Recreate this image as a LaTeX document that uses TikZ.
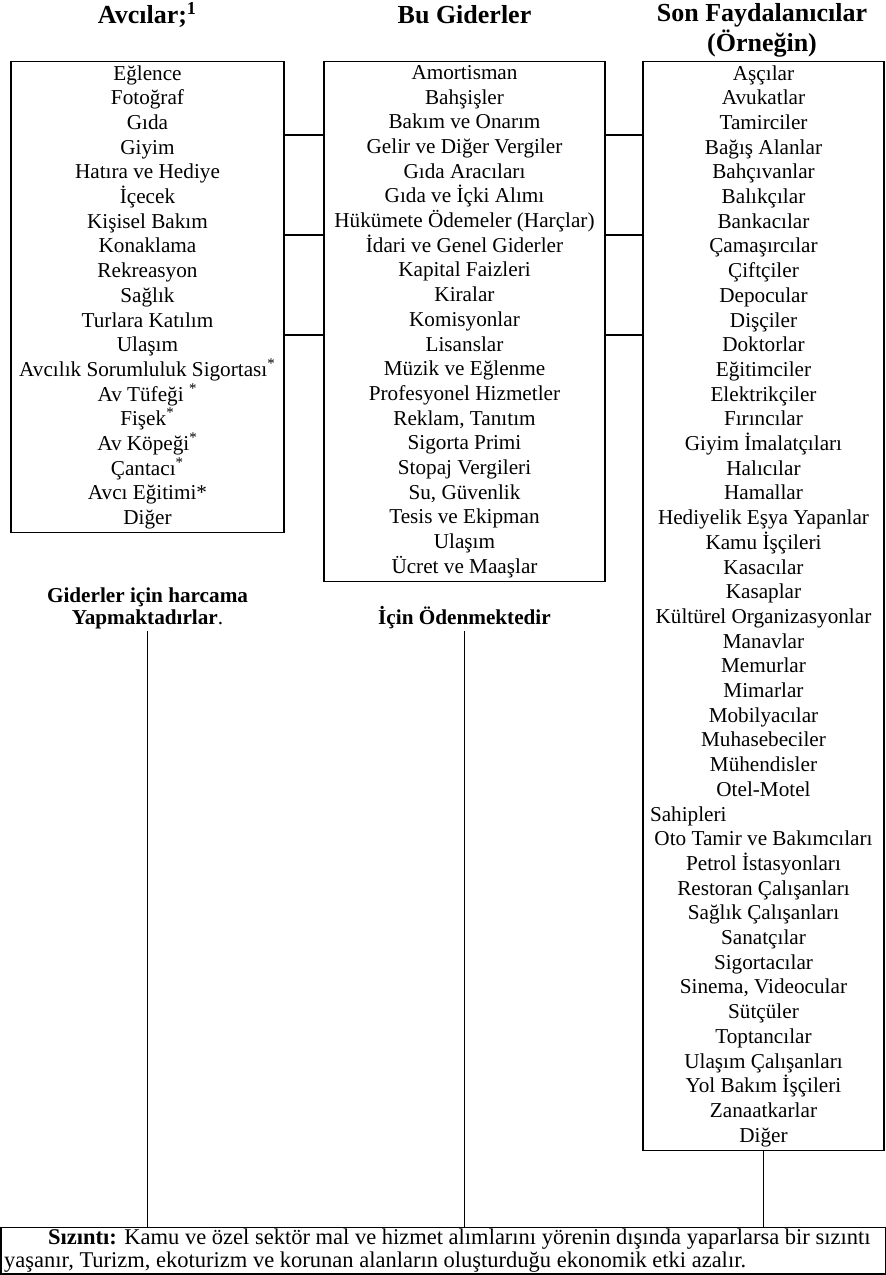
\documentclass[tikz,border=0pt]{standalone}
\usepackage{fontspec}
\setmainfont{Liberation Serif}
\usetikzlibrary{positioning}

\begin{document}
\begin{tikzpicture}[x=0.5pt, y=-0.5pt, line width=0.7pt,
  baslik/.style={font=\fontsize{13}{13.5}\selectfont\bfseries, align=center, inner sep=0pt},
  liste/.style={draw, anchor=north, align=center, inner xsep=0pt, inner ysep=1.8pt,
    font=\fontsize{10.6}{12.35}\selectfont},
  etiket/.style={font=\fontsize{10.6}{11}\selectfont\bfseries, align=center, inner sep=0pt,
    text depth=3pt, anchor=south}]
  % sayfa: 885 x 1275 px, 1 px = 0.5 pt
  \useasboundingbox (0,0) rectangle (885,1275);

  % ---------------- basliklar ----------------
  \node[baslik, anchor=base] (baslikA) at (147.5,23) {Avcılar;\textsuperscript{1}};
  \node[baslik, anchor=base] (baslikB) at (464.5,23) {Bu Giderler};
  % iki satir: base = son satir
  \node[baslik, anchor=base] (baslikC) at (762,51) {Son Faydalanıcılar\\(Örneğin)};

  % ---------------- kutular ----------------
  \node[liste, minimum width=136.5pt] (avci) at (147.5,61) {%
    Eğlence\\Fotoğraf\\Gıda\\Giyim\\Hatıra ve Hediye\\İçecek\\Kişisel Bakım\\
    Konaklama\\Rekreasyon\\Sağlık\\Turlara Katılım\\Ulaşım\\
    Avcılık Sorumluluk Sigortası\textsuperscript{*}\\Av Tüfeği \textsuperscript{*}\\
    Fişek\textsuperscript{*}\\Av Köpeği\textsuperscript{*}\\Çantacı\textsuperscript{*}\\
    Avcı Eğitimi*\\Diğer};

  \node[liste, minimum width=140.5pt] (gider) at (464.5,61) {%
    Amortisman\\Bahşişler\\Bakım ve Onarım\\Gelir ve Diğer Vergiler\\Gıda Aracıları\\
    Gıda ve İçki Alımı\\Hükümete Ödemeler (Harçlar)\\İdari ve Genel Giderler\\
    Kapital Faizleri\\Kiralar\\Komisyonlar\\Lisanslar\\Müzik ve Eğlenme\\
    Profesyonel Hizmetler\\Reklam, Tanıtım\\Sigorta Primi\\Stopaj Vergileri\\
    Su, Güvenlik\\Tesis ve Ekipman\\Ulaşım\\Ücret ve Maaşlar};

  \node[liste, minimum width=120.5pt] (fayda) at (763.5,61) {%
    Aşçılar\\Avukatlar\\Tamirciler\\Bağış Alanlar\\Bahçıvanlar\\Balıkçılar\\
    Bankacılar\\Çamaşırcılar\\Çiftçiler\\Depocular\\Dişçiler\\Doktorlar\\
    Eğitimciler\\Elektrikçiler\\Fırıncılar\\Giyim İmalatçıları\\Halıcılar\\
    Hamallar\\Hediyelik Eşya Yapanlar\\Kamu İşçileri\\Kasacılar\\Kasaplar\\
    Kültürel Organizasyonlar\\Manavlar\\Memurlar\\Mimarlar\\Mobilyacılar\\
    Muhasebeciler\\Mühendisler\\Otel-Motel\\
    \makebox[120.5pt][l]{\hspace*{3.5pt}Sahipleri}\\
    Oto Tamir ve Bakımcıları\\Petrol İstasyonları\\Restoran Çalışanları\\
    Sağlık Çalışanları\\Sanatçılar\\Sigortacılar\\Sinema, Videocular\\Sütçüler\\
    Toptancılar\\Ulaşım Çalışanları\\Yol Bakım İşçileri\\Zanaatkarlar\\Diğer};

  % kutular arasi baglar
  \foreach \y in {135,235,335} {
    \draw (avci.east |- 0,\y) -- (gider.west |- 0,\y);
    \draw (gider.east |- 0,\y) -- (fayda.west |- 0,\y);
  }

  % ---------------- alt etiketler ----------------
  \node[etiket] (harcama) at (avci.south |- 0,631)
    {Giderler için harcama\\Yapmaktadırlar{\normalfont .}};
  \node[etiket] (odeme) at (gider.south |- 0,631) {İçin Ödenmektedir};

  % sizinti kutusu
  \node[draw, anchor=north west, text width=439pt, inner xsep=1.5pt, inner ysep=0.8pt,
    align=flush left, font=\fontsize{11.25}{11.4}\selectfont] (sizinti) at (0.5,1227)
    {\hspace*{22pt}\textbf{Sızıntı:} Kamu ve özel sektör mal ve hizmet alımlarını yörenin dışında yaparlarsa bir sızıntı\\
     yaşanır, Turizm, ekoturizm ve korunan alanların oluşturduğu ekonomik etki azalır.};

  \draw (harcama.south) -- (harcama.south |- sizinti.north);
  \draw (odeme.south) -- (odeme.south |- sizinti.north);
  \draw (fayda.south) -- (fayda.south |- sizinti.north);
\end{tikzpicture}
\end{document}
